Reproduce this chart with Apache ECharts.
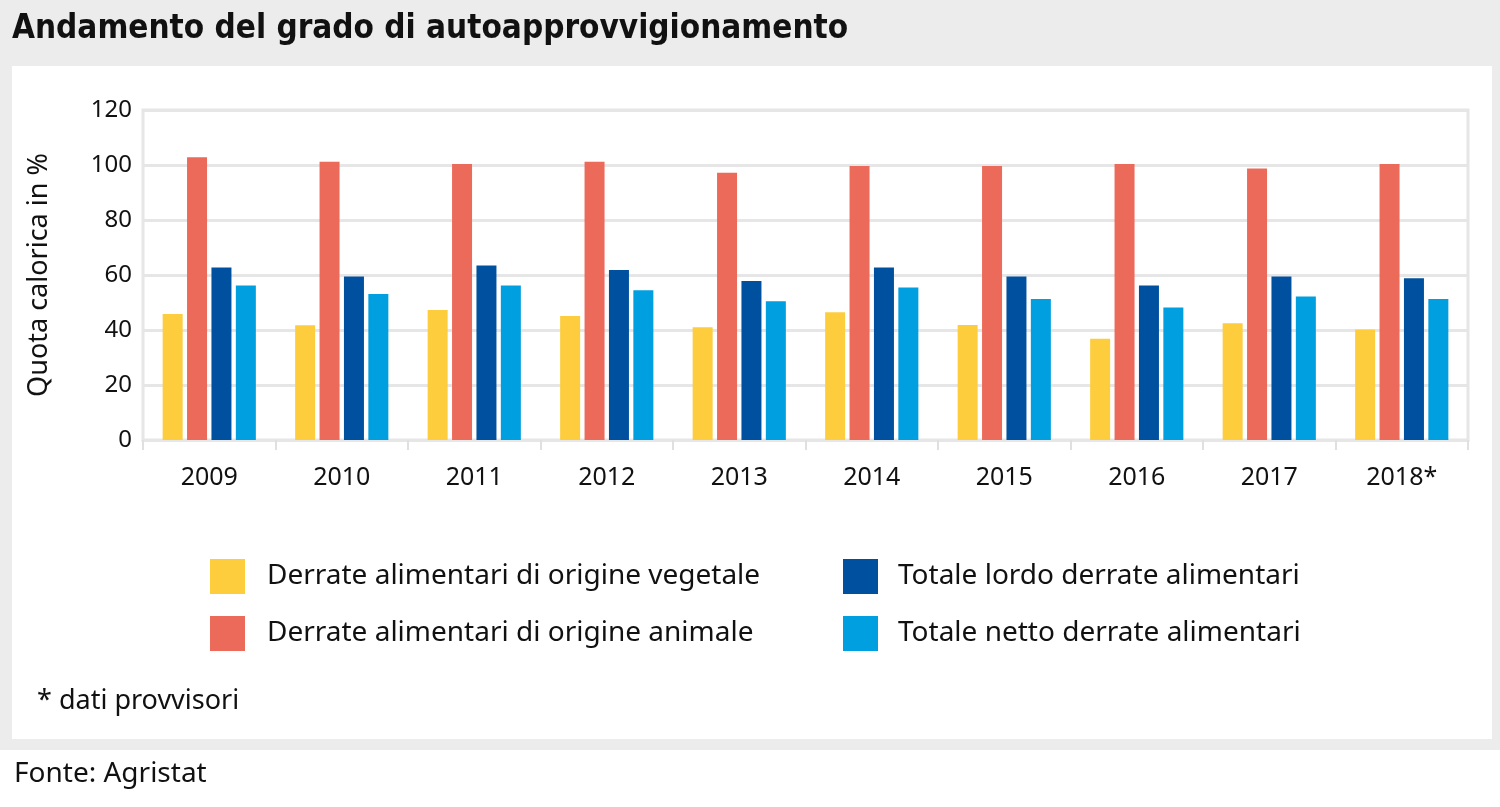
<!DOCTYPE html>
<html>
<head>
<meta charset="utf-8">
<style>
html,body{margin:0;padding:0;background:#ffffff;}
#chart{width:1500px;height:807px;}
</style>
<script src="https://cdn.jsdelivr.net/npm/echarts@6/dist/echarts.min.js"></script>
</head>
<body>
<div id="chart"></div>
<script>
const categories = ['2009','2010','2011','2012','2013','2014','2015','2016','2017','2018*'];
const seriesNames = [
  'Derrate alimentari di origine vegetale',
  'Derrate alimentari di origine animale',
  'Totale lordo derrate alimentari',
  'Totale netto derrate alimentari'
];
const vegetale = [45.8, 41.7, 47.3, 45.1, 41.0, 46.5, 41.8, 36.8, 42.5, 40.2];
const animale  = [102.8, 101.2, 100.4, 101.2, 97.2, 99.6, 99.6, 100.4, 98.7, 100.4];
const lordo    = [62.7, 59.5, 63.5, 61.8, 57.8, 62.7, 59.5, 56.2, 59.5, 58.8];
const netto    = [56.2, 53.1, 56.2, 54.5, 50.5, 55.5, 51.3, 48.2, 52.2, 51.3];
const yTicks = [0, 20, 40, 60, 80, 100, 120];
const colors = ['#fdcd3e', '#ec6a5a', '#0050a0', '#009fe0'];

const FONT = 'Noto Sans';
const chart = echarts.init(document.getElementById('chart'), null, {renderer:'canvas'});
const values = [vegetale, animale, lordo, netto];

chart.setOption({
  animation: false,
  textStyle: {fontFamily: FONT},
  graphic: [
    {type:'rect', silent:true, z:-10, shape:{x:0,y:0,width:1500,height:750}, style:{fill:'#ececec'}},
    {type:'rect', silent:true, z:-9, shape:{x:12,y:66,width:1480,height:673}, style:{fill:'#ffffff'}},
    {type:'text', left:12, top:13, style:{text:'Andamento del grado di autoapprovvigionamento', fill:'#111', font:'bold 33px "Liberation Sans Narrow", "DejaVu Sans Condensed", sans-serif'}},
    {type:'text', left:37, top:688, style:{text:'* dati provvisori', fill:'#111', font:'27px "Noto Sans"'}},
    {type:'text', left:14, top:760, style:{text:'Fonte: Agristat', fill:'#111', font:'28px "Noto Sans"'}}
  ],
  legend: [
    {
      data: seriesNames.slice(0,2), orient:'vertical', left:205, top:554,
      itemWidth:35, itemHeight:35, itemGap:22, icon:'rect',
      textStyle:{fontSize:28, color:'#111', fontFamily:FONT, padding:[0,0,0,17]}
    },
    {
      data: seriesNames.slice(2,4), orient:'vertical', left:838, top:554,
      itemWidth:35, itemHeight:35, itemGap:22, icon:'rect',
      textStyle:{fontSize:28, color:'#111', fontFamily:FONT, padding:[0,0,0,15]}
    }
  ],
  grid: {left:143, right:32, top:110, bottom:367, show:true, borderColor:'#e6e6e6', borderWidth:3},
  xAxis: {
    type:'category', data:categories,
    axisLine:{show:true, lineStyle:{color:'#e6e6e6', width:3}},
    axisTick:{show:true, length:10, lineStyle:{color:'#e0e0e0', width:2}},
    axisLabel:{color:'#111', fontSize:25, margin:25, fontFamily:FONT}
  },
  yAxis: {
    type:'value', min:0, max:120, interval:20,
    name:'Quota calorica in %', nameLocation:'middle', nameGap:90,
    nameTextStyle:{fontSize:27, color:'#111', fontFamily:FONT},
    axisLine:{show:false}, axisTick:{show:false},
    axisLabel:{color:'#111', fontSize:24, margin:11, fontFamily:FONT},
    splitLine:{lineStyle:{color:'#e6e6e6', width:3}}
  },
  series: seriesNames.map((n,i)=>({
    name:n, type:'bar', data:values[i], barWidth:20, barGap:'22%',
    itemStyle:{color:colors[i]}
  }))
});
</script>
</body>
</html>
